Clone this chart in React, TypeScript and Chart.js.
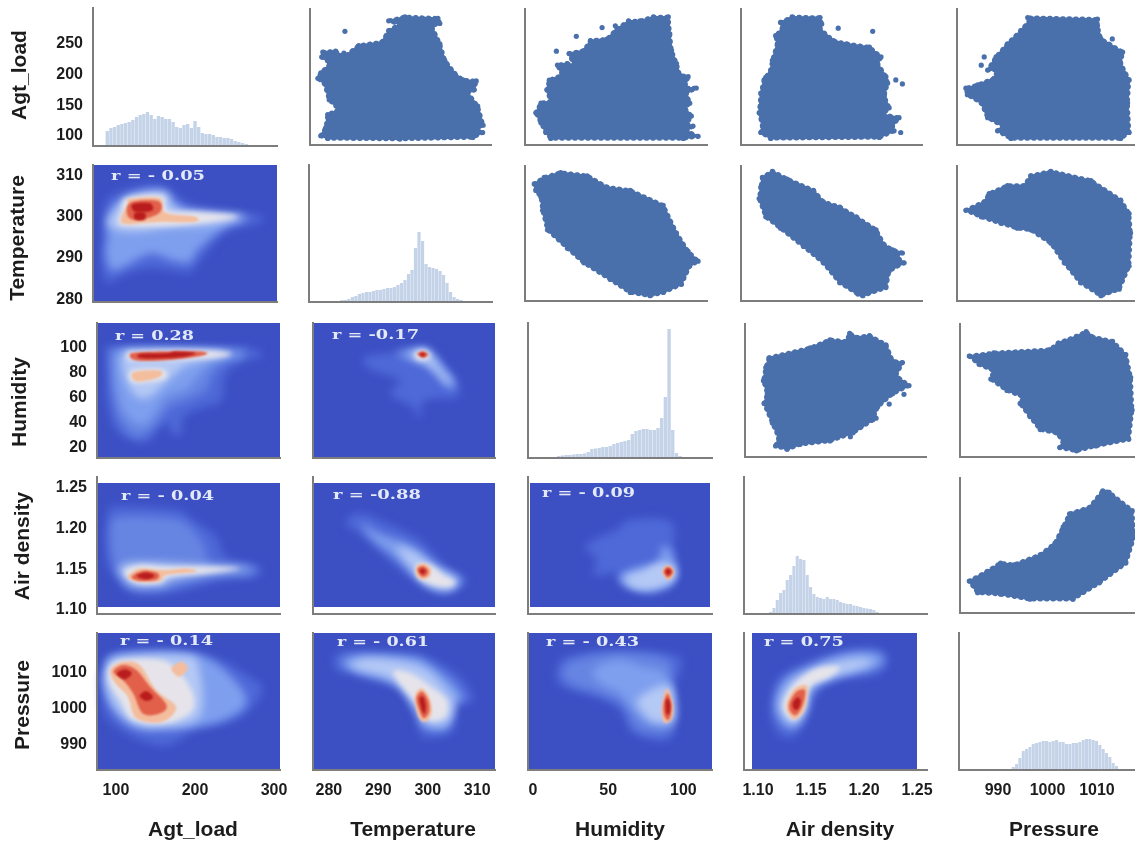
import { useEffect, useRef } from "react";
import { Chart, registerables } from "chart.js";
Chart.register(...registerables);

type P = number[];
const varNames = ["Agt_load", "Temperature", "Humidity", "Air density", "Pressure"];
const xRanges = [[76, 307.6], [276.8, 313.6], [-3.3, 119], [1.0868, 1.2594], [982.1, 1018.7]];
const yRanges = [[83.7, 308.8], [279.3, 312.5], [12, 119.8], [1.095, 1.2635], [982.8, 1020.9]];
const xTicks = [[100, 200, 300], [280, 290, 300, 310], [0, 50, 100], [1.1, 1.15, 1.2, 1.25], [990, 1000, 1010]];
const yTicks = [[100, 150, 200, 250], [280, 290, 300, 310], [20, 40, 60, 80, 100], [1.1, 1.15, 1.2, 1.25], [990, 1000, 1010]];
const tickDecimals = [0, 0, 0, 2, 0];

// histograms: bar heights and bin positions
const histAgt = [15,18,19,21,22,23,24,26,29,31,32,34,31,27,30,29,27,27,24,19,18,21,22,18,25,19,13,12,12,11,9,9,8,8,7,5,4,3,2,1];
const histTemp = [1,1,2,2,3,5,6,8,9,10,10,11,12,12,13,14,14,15,17,19,22,28,32,54,70,61,38,35,34,33,31,27,19,10,5,3,2,1,0.5];
const histHum = [1,2,2.5,3,3,3.5,4,4,4.5,6,9,9.5,10,11,11,12,14,15,16,17,18,24,27,28,29,29,28,28,30,40,61,129,28,5,2,1];
const histAir = [2,6,14,21,24,34,39,48,58,55,54,39,27,20,17,16,15,17,15,15,14,12,11,10,10,8.5,8,7,6,5.5,5,4,2,1];
const histPres = [1,3,6,12,19,21,23,26,27,28,29,29,28,29,30,28,28,26,26,27,27,28,30,31,31,30,29,25,21,17,13,7,4,1,0.5];
const histStart = [94, 282, 14.7, 1.1119, 992.4];
const histStep = [4.6, 0.705, 2.444, 0.00314, 0.6734];
const histValues = [histAgt, histTemp, histHum, histAir, histPres];

// scatter outlines of the point clouds, then isolated points
const scTempAgt: P[] = [[279,99],[280,112.6],[280.4,134],[282.7,142.4],[280.7,158.7],[279.7,186],[278.4,194],[279,203.3],[281,218.5],[279.2,229.4],[279.4,237.6],[282,239.2],[283.7,229.4],[286.7,248.4],[291.4,253.9],[292.8,272.9],[295.1,283.8],[292.8,289.2],[296.1,295.7],[302.8,293.5],[303.2,284.8],[301.5,281],[303.2,251.1],[304.2,224],[306.2,202.2],[307.9,191.4],[310.6,189.7],[310.2,175],[308.9,169.6],[310.9,147.9],[312,116.4],[310.6,112.6],[311.9,104.4],[309.9,96.2],[295.1,93.5],[280.4,94.6]];
const scTempAgtDots: P[] = [[283.9,271.8],[283.7,236]];
const scHumAgt: P[] = [[4,137],[7.4,153],[14,156],[11.4,175],[13,191],[21.8,199.5],[18.5,216],[25,218.5],[29.6,216],[26.3,235],[36.3,240],[40.7,256.6],[51.8,259],[58.5,275.6],[66.3,289],[74,289],[83,295.7],[93,295.7],[94,267.5],[95.2,240],[98.5,218.5],[100.7,199.5],[106.3,196.8],[104,178],[111.8,178],[105.2,169.6],[107.4,153],[104,145],[108.5,131.6],[105.2,118],[109.6,115],[105.2,107],[113,98],[103,94.6],[14,94.6],[10.7,104.4],[7.4,120.7]];
const scHumAgtDots: P[] = [[17.8,239],[31.2,263.6],[48.5,278],[57.4,281]];
const scAirAgt: P[] = [[1.1057,104.4],[1.1072,115.3],[1.1041,137],[1.1057,169.6],[1.1088,191.4],[1.1151,207.7],[1.1167,224],[1.1214,251.1],[1.1198,264.7],[1.1261,275.6],[1.1245,286.5],[1.1355,295.7],[1.1622,294.6],[1.1638,283.8],[1.1622,275.6],[1.1747,256.6],[1.1873,251.1],[1.2093,245.7],[1.2203,229.4],[1.2171,218.5],[1.225,196.8],[1.2266,186],[1.2234,164.2],[1.2281,145.2],[1.2218,134.3],[1.2375,128.9],[1.2313,115.3],[1.2328,107.1],[1.2187,96.2],[1.1151,94.6]];
const scAirAgtDots: P[] = [[1.1795,277],[1.2124,271.8],[1.2391,104.4],[1.2344,191.4],[1.2407,184.8],[1.1104,195.7]];
const scPresAgt: P[] = [[990.3,107.1],[991.3,115.3],[988.3,128.9],[987,153.3],[984.2,166.9],[983.9,177.8],[986.3,183.2],[989.6,194.1],[990.3,207.7],[988.3,207.7],[990,229.4],[992.3,251.1],[995,272.9],[996.7,289.2],[996.4,294.6],[1010.5,291.9],[1010.5,281],[1011.2,259.3],[1015.6,237.6],[1015.2,218.5],[1016.9,191.4],[1016.6,153.3],[1016.9,104.4],[1015.2,94.6],[993,94.6]];
const scPresAgtDots: P[] = [[987.6,229.4],[987,215.8],[1013.5,259.3]];
const scHumTemp: P[] = [[4,306.5],[2.9,308.1],[9.6,309.7],[20.7,310.9],[38.5,310.1],[51.8,307.3],[67.4,306.5],[89.6,302.8],[98.5,296],[106.3,291.5],[113,289.1],[107.4,287.9],[101.8,283.4],[89.6,281.4],[80.7,280.6],[67.4,281.4],[54,284.6],[36.3,288.7],[25.2,292.3],[11.8,296.8],[8.5,301.6],[7.4,304.9]];
const scAirTemp: P[] = [[1.1057,307.3],[1.1041,304.5],[1.1104,300],[1.1245,297.2],[1.1465,292.7],[1.1653,288.7],[1.181,283.8],[1.1983,281],[1.203,280.6],[1.225,282.6],[1.2281,286.7],[1.2423,288.7],[1.2344,290.3],[1.2407,291.1],[1.2313,291.9],[1.2234,293.1],[1.2156,296.8],[1.1967,300],[1.181,302.4],[1.1653,303.7],[1.1559,306.5],[1.1308,309.3],[1.1167,311.2],[1.1072,309.7]];
const scPresTemp: P[] = [[983.9,301.6],[987.6,303.7],[988.6,305.7],[992.3,307.7],[995.7,307.7],[997,310.1],[1001.1,311.2],[1009.2,308.9],[1015.2,304.1],[1016.9,300.8],[1017.2,296],[1016.9,287.9],[1014.9,282.2],[1011.2,280.6],[1007.1,283.8],[1003.8,288.7],[1001.1,293.5],[997,296.8],[994.3,297.2],[991,298.4],[987,300]];
const scAirHum: P[] = [[1.1097,92.4],[1.149,100.4],[1.1678,107],[1.1835,105.7],[1.1866,112.3],[1.1929,108.9],[1.2055,110.4],[1.2212,103],[1.2275,89.8],[1.2369,88.5],[1.2306,77.9],[1.2432,69.9],[1.2275,63.3],[1.2133,52.7],[1.2086,42.1],[1.1898,31.6],[1.1678,25],[1.1395,22.3],[1.127,18.3],[1.116,21],[1.1191,27.6],[1.1129,39.5],[1.105,55.4],[1.1081,63.3],[1.1044,73.9],[1.1066,84.5]];
const scAirHumDots: P[] = [[1.2384,62.8],[1.2243,54.9],[1.2118,43.5],[1.1873,28.4]];
const scPresHum: P[] = [[984,93.8],[989,96.4],[1000.5,99],[1002.2,104.4],[1005.9,109.7],[1007.9,113.6],[1008.9,109.7],[1013.3,105.7],[1016,95],[1017,76.6],[1017.3,50.1],[1016.6,26.3],[1009.9,21],[1005.9,17],[1002.5,19.6],[1003.2,25],[1001.8,31.6],[998.5,34.2],[996.4,44.8],[994.4,55.4],[995.1,60.7],[991.7,66],[988.4,75.2],[989,81.9],[986,87.1]];
const scPresAir: P[] = [[984,1.1348],[987.7,1.147],[990.4,1.1573],[993.1,1.1552],[998.5,1.1676],[1001.5,1.1819],[1003.2,1.2024],[1004.5,1.2188],[1008.6,1.227],[1011.3,1.2475],[1012.6,1.2455],[1017.3,1.2229],[1017.7,1.1901],[1016,1.1573],[1010.6,1.1327],[1005.2,1.1122],[996.4,1.1122],[990.4,1.1184],[985.7,1.1204]];

// density contours: [level, outline]
type K = [number, P[]];
const kdeTempAgt: K[] = [
  [1,[[88,294],[91,303],[116,306.5],[160,307.7],[198,303],[248,301],[284,300.4],[286,298.7],[242,296],[211,289.5],[198,286.6],[173,287],[148,287.6],[116,286],[95,284],[87,288]]],
  [2,[[94,294],[97,301],[120,304.5],[160,305.8],[198,301],[248,300],[273,299.7],[242,297.5],[208,292],[198,289],[175,289.5],[148,291],[116,288],[100,287],[92,291]]],
  [3,[[95,298],[104,301.6],[122,305],[167,306],[179,302],[230,301],[267,300],[230,298],[173,297.3],[122,296.3]]],
  [4,[[108,298.7],[112,301.6],[119,304.5],[163,305],[170,301.5],[210,301],[258,300],[217,298.5],[167,297.7],[116,297.7]]],
  [5,[[112,300],[120,303],[122,304.3],[160,304.5],[167,301],[204,300],[204,298.7],[160,298.7],[116,298.2]]],
  [6,[[120,300],[123,303.4],[158,303.8],[160,301],[135,299.2]]],
  [7,[[126,303],[148,303.2],[150,301.4],[129,301.2]]],
  [7,[[129,300.9],[141,300.9],[141,299.3],[129,299.3]]],
];
const kdeHumAgt: K[] = [
  [1,[[88,95],[97,100.4],[206,100.4],[264,100.4],[285,93.8],[264,89.8],[239,79.2],[233,58],[210,52.7],[185,44.8],[182.5,31.6],[170,31.6],[168,39.5],[155,36.9],[143,26.3],[126,24.9],[101,34.2],[90,55.4],[88,76.6]]],
  [1.5,[[94,95],[101,99],[247,98],[264,94],[243,90],[222,79],[214,66],[189,58],[168,53],[155,42],[138,31.6],[122,30],[105,42],[97,61],[94,82]]],
  [2,[[101,95],[122,98],[239,97],[260,94],[226,90],[206,79],[189,67],[164,61],[151,50],[138,39.5],[126,39.5],[109,50],[101,69],[99,84.5]]],
  [3,[[109,95],[130,98],[210,98],[243,95],[210,90],[185,84.5],[164,72.6],[143,60.7],[126,60.7],[115,71],[109,82]]],
  [4,[[115,94],[122,97],[214,97.7],[247,95],[210,91],[122,90]]],
  [4,[[120,82],[159,83],[161.6,75],[122,72]]],
  [5,[[122,80.5],[155,81.8],[155,76.6],[126,73]]],
  [6,[[117.5,94],[130,96.4],[206,97],[210,93.8],[164,90],[126,89.8]]],
  [7,[[130,95],[164,95.6],[176,97],[201,95.6],[180,92.4],[134,91.6]]],
];
const kdeAirAgt: K[] = [
  [1,[[90,1.219],[105,1.227],[176,1.223],[197,1.211],[226.5,1.19],[239,1.1655],[281,1.153],[277,1.141],[239,1.137],[164,1.12],[122,1.12],[101,1.137],[88,1.165]]],
  [1.5,[[94.5,1.2065],[109,1.215],[172,1.2126],[193,1.2024],[210,1.182],[222,1.157],[273,1.153],[268.5,1.143],[222,1.141],[164,1.1265],[122,1.1265],[103,1.145],[94.5,1.174]]],
  [3,[[105,1.153],[130,1.159],[214,1.155],[268.5,1.151],[222,1.145],[172,1.137],[159,1.13],[122,1.13],[107,1.143]]],
  [4,[[111,1.147],[130,1.155],[164,1.153],[205.6,1.153],[256,1.151],[214,1.145],[168,1.141],[155,1.133],[126,1.133]]],
  [5,[[115,1.141],[130,1.151],[159,1.149],[189,1.151],[201,1.147],[164,1.143],[155,1.135],[126,1.135]]],
  [6,[[120,1.141],[134,1.148],[153,1.145],[151,1.137],[128,1.136]]],
  [7,[[126,1.142],[138.5,1.146],[149,1.142],[138.5,1.1376]]],
];
const kdePresAgt: K[] = [
  [1,[[84,1010.6],[96.6,1015.2],[164,1016.1],[226.5,1013.8],[268.5,1008.7],[285,1005],[264,998.5],[239,995.8],[201,993.9],[164,989.7],[122,992],[88,997.6],[82,1005]]],
  [2,[[86,1010.6],[101,1014.7],[189,1015.2],[226.5,1012.4],[260,1005],[262,1000.4],[235,996.7],[201,994.8],[155,993.9],[122,994.8],[97,999.5],[86,1005]]],
  [3,[[88,1010.6],[105,1014.3],[189,1014.7],[205.6,1010.6],[205.6,997.6],[155,994.8],[122,995.8],[99,1000.4],[88,1006]]],
  [4,[[92,1011.5],[113,1013.5],[164,1012.9],[193,1006],[197,999.5],[164,995.8],[122,996.7],[105,1002.2],[92,1006.9]]],
  [5,[[93,1010.6],[109,1012.9],[130,1012],[151,1005],[176,1000.4],[159,996.2],[126,997.1],[115,1003.2],[99,1006.9]]],
  [5,[[170,1011],[182.5,1012.9],[191,1011],[180,1008.7]]],
  [6,[[96.6,1010.1],[109,1012],[126,1010.6],[143,1006],[164,1000.9],[155,998.5],[134,998.5],[122,1004],[109,1007.8]]],
  [7,[[101,1009.6],[111,1010.8],[120,1009.7],[111,1008]]],
  [7,[[130,1003.4],[138.5,1004.8],[147,1003],[138.5,1002]]],
];
const kdeHumTemp: K[] = [
  [1,[[287.3,92.4],[293.7,96.4],[297.7,99.9],[300.4,99],[303.8,84.5],[306.2,69.9],[305.8,60.6],[300.4,59.4],[298.4,52.7],[298.8,47.4],[297.7,45.3],[297,52.7],[292.4,63.3],[294.4,73.9],[288.3,83.2]]],
  [2,[[293.7,95.6],[297.7,99],[300.1,98.3],[303.1,84.5],[305.5,72.6],[304.8,67.3],[302.5,75.2],[299.8,85.8],[297,89.8]]],
  [3,[[296.7,96.4],[298.4,98.3],[300.1,96.4],[302.5,83.2],[304.5,72.6],[303.8,71.3],[301.1,83.2],[298.4,89.8],[296.7,92.4]]],
  [4,[[297.4,95.6],[299.1,98.3],[300.4,95.1],[300.1,91.1],[298,90.3]]],
  [6,[[297.9,95],[299,97.2],[300.1,94.6],[299.1,91.9]]],
  [7,[[298.3,94.6],[299,96.1],[299.6,94.6],[299,93]]],
];
const kdeAirTemp: K[] = [
  [1,[[283.9,1.2127],[286.6,1.2188],[291.7,1.2065],[298.4,1.186],[303.8,1.1532],[307.5,1.141],[307.5,1.1327],[303.8,1.1204],[299,1.1286],[293,1.1573],[286.3,1.194],[283.9,1.2024]]],
  [2,[[286.6,1.2065],[290.3,1.194],[297.1,1.1778],[301.8,1.1532],[306.5,1.1388],[305.8,1.1286],[303.1,1.1225],[299,1.1327],[293.7,1.1634],[289,1.186]]],
  [3,[[293.7,1.1758],[297.1,1.1716],[301.1,1.1552],[305.8,1.1368],[304.5,1.1265],[301.1,1.1286],[298.4,1.1409]]],
  [4,[[297.7,1.1552],[300.4,1.1552],[303.1,1.143],[305.5,1.1348],[304.1,1.1286],[301.1,1.1307],[298.1,1.1389]]],
  [5,[[297.7,1.1532],[299.1,1.1573],[300.6,1.151],[300.4,1.1409],[298.8,1.1376],[297.7,1.143]]],
  [6,[[297.9,1.15],[299,1.154],[300.1,1.149],[299.9,1.143],[298.8,1.141]]],
  [7,[[298.3,1.1483],[299,1.1511],[299.6,1.1478],[299,1.1438]]],
];
const kdePresTemp: K[] = [
  [1,[[281.2,1013.4],[282.9,1015.7],[295.7,1015.2],[300.4,1013.8],[306.5,1008.7],[309.2,1002.2],[305.8,1000.4],[305.1,993.5],[299.1,992],[297.7,997.6],[294.4,1005],[286.3,1008.7],[281.6,1010.6]]],
  [2,[[282.6,1012.4],[285.6,1014.7],[296.4,1014.3],[300.1,1012.4],[305.1,1006.9],[307.2,1002.2],[304.8,1001.3],[303.8,994.4],[299.1,994.8],[297.4,999.5],[293.7,1006.4],[286.3,1009.7]]],
  [3,[[284.3,1011.9],[287.6,1013.8],[295.1,1012.9],[299.8,1010.6],[303.8,1005],[305.5,1001.3],[304.1,995.8],[299.8,995.8],[297.7,1000.4],[293,1007.8],[286.3,1010.6]]],
  [4,[[293,1009.7],[296.4,1009.7],[301.1,1005.5],[303.8,1002.2],[303.5,997.6],[300.1,996.7],[297.7,1001.3]]],
  [5,[[297.4,1003.2],[298.8,1005.5],[300.4,1002.7],[300.8,998.5],[299.4,996.2],[298.1,997.6]]],
  [6,[[297.7,1002.7],[298.8,1004.6],[300.1,1002.2],[300.3,999],[299.2,997.2],[298.3,999.5]]],
  [7,[[298.3,1002.7],[299.1,1003.2],[299.6,1000.9],[299.4,998.5],[298.8,999.5]]],
];
const kdeAirHum: K[] = [
  [1,[[34.7,1.1778],[44.7,1.19],[55.8,1.1983],[64.7,1.2106],[91.4,1.2085],[93.6,1.1737],[95.8,1.1491],[91.4,1.1286],[75.8,1.1204],[60.2,1.1286],[55.8,1.145],[40.3,1.143],[42.5,1.1614]]],
  [2,[[56.9,1.1409],[66.9,1.1511],[82.5,1.1593],[85.8,1.1778],[91.4,1.1737],[94.7,1.1491],[91.4,1.1307],[75.8,1.1225],[61.4,1.1307]]],
  [3,[[61.4,1.1409],[71.4,1.147],[84.7,1.1573],[93.6,1.1532],[92.5,1.1368],[78,1.1265],[64.7,1.1307]]],
  [3,[[64.7,1.1368],[73.6,1.1409],[85.8,1.1532],[93.6,1.1491],[91.4,1.1388],[75.8,1.1307],[66.9,1.1307]]],
  [5,[[85.8,1.1471],[89.8,1.1553],[94,1.1471],[90.2,1.1368]]],
  [6,[[86.9,1.1471],[89.8,1.1532],[93.1,1.1471],[89.8,1.1397]]],
  [7,[[88,1.1471],[89.8,1.1508],[91.8,1.1471],[89.8,1.143]]],
];
const kdePresHum: K[] = [
  [1,[[15.8,1010.6],[22.5,1014.3],[55.8,1016.1],[89.1,1015.2],[99.1,1012.9],[93.6,1005],[94.7,996.7],[89.1,991.1],[66.9,993],[58,999.5],[44.7,1002.7],[22.5,1005.5],[15.8,1007.8]]],
  [1.5,[[20.2,1010.6],[29.1,1013.4],[55.8,1015.2],[89.1,1013.4],[91.4,1006],[93.6,995.8],[86.9,993],[69.1,994.4],[60.2,1000.9],[44.7,1004.1],[24.7,1006.9]]],
  [2,[[40.3,1010.6],[55.8,1013.4],[73.6,1011.5],[89.1,1008.7],[91.4,996.7],[78,995.8],[66.9,999.5],[58,1004.1],[44.7,1006.9]]],
  [3,[[69.1,1002.2],[82.5,1005.9],[92.5,1005.5],[93.6,996.7],[80.2,996.2],[73.6,998.5]]],
  [5,[[85.8,1001.3],[89.1,1005.5],[93.1,1001.3],[92.5,997.2],[88,995.8],[85.8,997.6]]],
  [6,[[86.9,1001.3],[89.5,1004.1],[91.9,1001.3],[91.4,997.6],[89.1,996.7],[86.9,998.5]]],
  [7,[[88.2,1001.8],[89.8,1002.7],[91.4,1000.9],[90.7,998.5],[88.7,998.5]]],
];
const kdePresAir: K[] = [
  [1,[[1.1129,1001.3],[1.1207,1008.7],[1.1521,1013.4],[1.1835,1016.1],[1.2118,1016.6],[1.2228,1013.4],[1.2118,1009.2],[1.1772,1007.8],[1.1552,1004.1],[1.1458,996.7],[1.1333,992],[1.1207,992.5],[1.1129,996.7]]],
  [2,[[1.116,1001.3],[1.1254,1007.8],[1.1552,1012.4],[1.1835,1015.2],[1.2118,1015.2],[1.218,1012.9],[1.2055,1010.6],[1.1741,1008.7],[1.1521,1005],[1.1443,998.5],[1.1348,994.4],[1.1223,995.8]]],
  [3,[[1.1207,1001.3],[1.1317,1007.4],[1.1584,1011.5],[1.1929,1013.8],[1.2086,1012.9],[1.1929,1010.6],[1.1678,1008.3],[1.149,1005.5],[1.1443,999.5],[1.1348,995.8],[1.1254,997.2]]],
  [4,[[1.1238,1001.3],[1.1333,1006.4],[1.1552,1011],[1.1772,1011.5],[1.1678,1008.7],[1.149,1005.9],[1.1443,1000],[1.1348,996.7],[1.127,998.1]]],
  [5,[[1.127,1001.3],[1.1348,1005.5],[1.1458,1006.4],[1.1464,1003.2],[1.1427,999],[1.1348,996.9],[1.1285,998.5]]],
  [6,[[1.1295,1001.3],[1.1364,1004.6],[1.1443,1005],[1.1427,1001.3],[1.1364,998.1],[1.1307,999]]],
  [7,[[1.1326,1001.3],[1.1373,1003],[1.1402,1002.2],[1.1389,1000.2],[1.1348,999.5]]],
];
const levelColors: Record<number, string> = { 1: "#4f69d8", 1.5: "#6685e2", 2: "#7e9fee", 3: "#b5c9f5", 4: "#e6e4ea", 5: "#f3bd9e", 6: "#e2604a", 7: "#b81c1c" };

// correlation labels
const rLabels: [number, number, string][] = [
  [1,0,"r = - 0.05"],[2,0,"r = 0.28"],[3,0,"r = - 0.04"],[4,0,"r = - 0.14"],
  [2,1,"r = -0.17"],[3,1,"r = -0.88"],[4,1,"r = - 0.61"],
  [3,2,"r = - 0.09"],[4,2,"r = - 0.43"],[4,3,"r = 0.75"],
];
// label placement on the page: left, right, middle line
const rBoxes = [[111,205,177],[115,194,337],[121,214,497],[120,213,642],[332,419,336],[333,421,496],[337,429,643],[542,635,494],[546,639,643],[764,844,643]];
// axis-name placement on the page
const xNameCentres = [193, 413, 620, 840, 1054];
const xNameLine = 830;
const yNameCentres = [75, 238, 402, 546, 705];
const yNameLines = [20, 18, 20, 23, 23];

const rowSpans = [[8,146],[165,302],[323,458],[477,614],[633,770]];
const upperCols = [[93,277],[309,492],[524,708],[740,923],[956,1139]];
const lowerCols = [[97,280],[313,495],[528,712],[744,927],[959,1140]];

const scatterGrid: Record<string, [P[], P[]]> = {
  "0-1": [scTempAgt, scTempAgtDots], "0-2": [scHumAgt, scHumAgtDots], "0-3": [scAirAgt, scAirAgtDots], "0-4": [scPresAgt, scPresAgtDots],
  "1-2": [scHumTemp, []], "1-3": [scAirTemp, []], "1-4": [scPresTemp, []],
  "2-3": [scAirHum, scAirHumDots], "2-4": [scPresHum, []], "3-4": [scPresAir, []],
};
const kdeGrid: Record<string, K[]> = {
  "1-0": kdeTempAgt, "2-0": kdeHumAgt, "3-0": kdeAirAgt, "4-0": kdePresAgt,
  "2-1": kdeHumTemp, "3-1": kdeAirTemp, "4-1": kdePresTemp,
  "3-2": kdeAirHum, "4-2": kdePresHum, "4-3": kdePresAir,
};
// background band of a density panel inside its axes: left, right, top, bottom
const kdeInset = (r: number, c: number) => {
  if (r === 3) return c === 2 ? [2, 2, 6, 7] : [0, 0, 6, 7];
  if (r === 4 && c === 3) return [8, 10, 0, 0];
  return [0, 0, 0, 0];
};

const SCATTER = "#4a70ac";
const INK = "#1c1c1c";
const toXY = (a: P[]) => a.map(([x, y]) => ({ x, y }));

function makePlugin(r: number, c: number, ox: number, oy: number) {
  const key = `${r}-${c}`;
  const label = rLabels.findIndex((l) => l[0] === r && l[1] === c);
  return {
    id: "panel" + key,
    beforeDatasetsDraw(chart: any) {
      if (!kdeGrid[key]) return;
      const { ctx, chartArea: a } = chart;
      const [il, ir, it, ib] = kdeInset(r, c);
      ctx.save();
      ctx.fillStyle = "#3c50c4";
      ctx.fillRect(a.left + il, a.top + it, a.width - il - ir, a.height - it - ib);
      ctx.restore();
    },
    beforeDatasetDraw(chart: any, args: any) {
      const ds: any = chart.data.datasets[args.index];
      if (!ds.outline) return;
      const { ctx } = chart;
      const pts = args.meta.data;
      const n = pts.length;
      ctx.save();
      ctx.beginPath();
      if (ds.outline === "kde") {
        ctx.filter = `blur(${ds.level >= 5 ? 1.2 : ds.level >= 4 ? 2.5 : 4}px)`;
        ctx.moveTo(pts[0].x, pts[0].y);
        for (let i = 0; i < n; i++) {
          const p0 = pts[(i - 1 + n) % n], p1 = pts[i], p2 = pts[(i + 1) % n], p3 = pts[(i + 2) % n];
          ctx.bezierCurveTo(
            p1.x + (p2.x - p0.x) / 6, p1.y + (p2.y - p0.y) / 6,
            p2.x - (p3.x - p1.x) / 6, p2.y - (p3.y - p1.y) / 6,
            p2.x, p2.y
          );
        }
        ctx.closePath();
        ctx.fillStyle = ds.levelColor;
        ctx.fill();
      } else {
        pts.forEach((p: any, i: number) => (i ? ctx.lineTo(p.x, p.y) : ctx.moveTo(p.x, p.y)));
        ctx.closePath();
        ctx.fillStyle = SCATTER;
        ctx.strokeStyle = SCATTER;
        ctx.lineJoin = "round";
        ctx.fill();
        ctx.lineWidth = 2;
        ctx.stroke();
        ctx.setLineDash([1, 5.5]);
        ctx.lineCap = "round";
        ctx.lineWidth = 4.5;
        ctx.stroke();
      }
      ctx.restore();
    },
    afterDatasetsDraw(chart: any) {
      const { ctx, chartArea: a } = chart;
      if (r === 0 && c === 0) {
        ctx.save();
        ctx.strokeStyle = "#555";
        ctx.lineWidth = 2;
        ctx.beginPath();
        ctx.moveTo(a.left, a.top);
        ctx.lineTo(a.left, a.top + 20);
        ctx.stroke();
        ctx.restore();
      }
      if (label >= 0) {
        const [x0, x1, y] = rBoxes[label];
        ctx.save();
        ctx.font = "bold 13px 'DejaVu Serif'";
        ctx.fillStyle = "#e4e9f6";
        ctx.textBaseline = "middle";
        ctx.textAlign = "left";
        const w = ctx.measureText(rLabels[label][2]).width;
        ctx.translate(x0 - ox, y - oy);
        ctx.scale((x1 - x0) / w, 1);
        ctx.fillText(rLabels[label][2], 0, 0);
        ctx.restore();
      }
      ctx.save();
      ctx.font = "bold 21px 'Liberation Sans'";
      ctx.fillStyle = INK;
      ctx.textAlign = "center";
      ctx.textBaseline = "middle";
      if (r === 4) ctx.fillText(varNames[c], xNameCentres[c] - ox, xNameLine - oy);
      if (c === 0) {
        ctx.translate(yNameLines[r] - ox, yNameCentres[r] - oy);
        ctx.rotate(-Math.PI / 2);
        ctx.fillText(varNames[r], 0, 0);
      }
      ctx.restore();
    },
  };
}

const panels: { r: number; c: number; left: number; top: number; w: number; h: number; lm: number; bm: number; rm: number; ph: number }[] = [];
rowSpans.forEach(([t, b], r) => {
  (r < 2 ? upperCols : lowerCols).forEach(([l, rt], c) => {
    const lm = c === 0 ? l : r === 4 ? 25 : 3;
    const rm = r === 4 ? 40 : 3;
    const left = l - lm;
    const top = t - 3;
    const bm = r === 4 ? 843 - b : 3;
    panels.push({ r, c, left, top, w: rt - left + rm, h: b - top + bm, lm, bm, rm, ph: b - t });
  });
});

const noPad = (s: any) => {
  s.paddingTop = 0;
  s.paddingBottom = 0;
  s.paddingLeft = 0;
  s.paddingRight = 0;
};

export default function App() {
  const refs = useRef<(HTMLCanvasElement | null)[]>([]);
  useEffect(() => {
    const charts = panels.map((p, i) => {
      const { r, c } = p;
      const key = `${r}-${c}`;
      const datasets: any[] = [];
      if (r === c) {
        datasets.push({
          type: "bar",
          yAxisID: "yc",
          data: histValues[r].map((v, k) => ({ x: histStart[r] + histStep[r] * k, y: v })),
          backgroundColor: "#c5d3e8",
          borderWidth: 0,
          barPercentage: 1,
          categoryPercentage: 0.92,
        });
      } else if (kdeGrid[key]) {
        const levels = kdeGrid[key];
        levels.forEach(([lv, pts], k) =>
          datasets.push({
            type: "scatter",
            data: toXY(pts),
            outline: "kde",
            level: lv,
            levelColor: levelColors[lv],
            order: levels.length - k,
            pointRadius: 0,
            showLine: false,
          })
        );
      } else {
        const [shape, dots] = scatterGrid[key];
        const style = { type: "scatter", pointRadius: 2.6, pointBorderWidth: 0, pointBackgroundColor: SCATTER, showLine: false };
        datasets.push({ ...style, data: toXY(shape), outline: "scatter" });
        if (dots.length) datasets.push({ ...style, data: toXY(dots) });
      }
      const axisColor = "#7d7d7d";
      const tickFont = { family: "'Liberation Sans'", size: 16, weight: "bold" as const };
      const canvas = refs.current[i]!;
      return new Chart(canvas, {
        type: r === c ? "bar" : "scatter",
        data: { datasets },
        plugins: [makePlugin(r, c, p.left, p.top)],
        options: {
          animation: false,
          responsive: false,
          events: [],
          layout: { padding: { top: 3, right: p.rm, left: 0, bottom: 0 } },
          plugins: { legend: { display: false }, tooltip: { enabled: false } },
          scales: {
            x: {
              type: "linear",
              offset: false,
              min: xRanges[c][0],
              max: xRanges[c][1],
              grid: { display: false, drawTicks: false },
              border: { display: true, color: axisColor, width: 2, z: 1 },
              afterBuildTicks: (s: any) => { s.ticks = xTicks[c].map((value) => ({ value })); },
              afterFit: (s: any) => { s.height = p.bm; noPad(s); },
              ticks: {
                display: r === 4,
                padding: 11,
                maxRotation: 0,
                autoSkip: false,
                color: INK,
                font: tickFont,
                callback: (v: any) => Number(v).toFixed(tickDecimals[c]),
              },
            },
            y: {
              type: "linear",
              min: yRanges[r][0],
              max: yRanges[r][1],
              grid: { display: false, drawTicks: false },
              border: { display: true, color: axisColor, width: 2, z: 1 },
              afterBuildTicks: (s: any) => { s.ticks = yTicks[r].map((value) => ({ value })); },
              afterFit: (s: any) => { s.width = p.lm; noPad(s); },
              ticks: {
                display: c === 0,
                padding: 10,
                autoSkip: false,
                color: INK,
                font: tickFont,
                callback: (v: any) => Number(v).toFixed(tickDecimals[r]),
              },
            },
            ...(r === c ? { yc: { type: "linear", display: false, min: 0, max: p.ph } } : {}),
          },
        } as any,
      });
    });
    return () => charts.forEach((ch) => ch.destroy());
  }, []);
  return (
    <div style={{ position: "fixed", left: 0, top: 0, width: 1135, height: 843, overflow: "hidden", background: "#fff", filter: "blur(0.6px)" }}>
      {panels.map((p, i) => (
        <canvas
          key={i}
          ref={(el) => { refs.current[i] = el; }}
          width={p.w}
          height={p.h}
          style={{ position: "absolute", left: p.left, top: p.top, width: p.w, height: p.h, display: "block" }}
        />
      ))}
    </div>
  );
}
